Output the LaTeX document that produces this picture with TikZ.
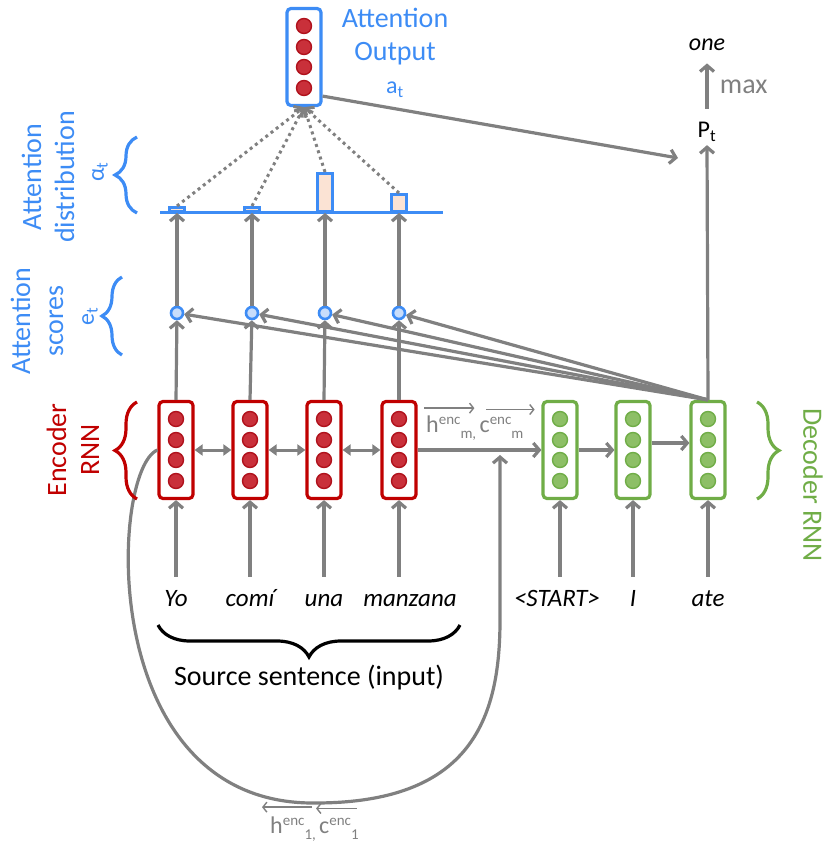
\documentclass[tikz,border=0pt]{standalone}
\usepackage{fontspec}
\setmainfont{Carlito}
\usetikzlibrary{arrows.meta,positioning,calc,decorations.pathreplacing}

\definecolor{encred}{HTML}{C00000}
\definecolor{encdark}{HTML}{B0121C}
\definecolor{celred}{HTML}{C9303A}
\definecolor{decgreen}{HTML}{70AD47}
\definecolor{celgreen}{HTML}{8DBF66}
\definecolor{attblue}{HTML}{3D8CF5}
\definecolor{scorefill}{HTML}{C8DDFB}
\definecolor{barfill}{HTML}{FBE3D4}
\definecolor{arrgray}{HTML}{808080}

\newcommand{\fsz}[1]{\fontsize{#1}{#1}\selectfont}
\newcommand{\supenc}{\raisebox{8pt}{\fsz{15}enc}}
\newcommand{\subidx}[1]{\raisebox{-6pt}{\fsz{15}#1}}

\begin{document}
\begin{tikzpicture}[x=1pt, y=-1pt,
  vecbox/.style={draw, rounded corners=4pt, line width=3.2pt, fill=white,
    minimum width=34pt, minimum height=97pt, inner sep=0pt},
  cell/.style={circle, draw, line width=1.4pt, minimum size=15pt, inner sep=0pt},
  score/.style={circle, draw=attblue, fill=scorefill, line width=2.6pt,
    minimum size=12pt, inner sep=0pt},
  bar/.style={draw=attblue, fill=barfill, line width=3pt, minimum width=15pt,
    inner sep=0pt},
  arr/.style={draw=arrgray, line width=3.2pt,
    -{Straight Barb[length=6pt, width=14pt]}},
  biarr/.style={draw=arrgray, line width=3pt,
    {Triangle[length=8pt, width=11pt]}-{Triangle[length=8pt, width=11pt]}},
  dotarr/.style={draw=arrgray, line width=3pt, dash pattern=on 3pt off 3.6pt,
    -{Straight Barb[length=6pt, width=14pt]}},
  thinarr/.style={draw=arrgray, line width=1.4pt,
    -{Straight Barb[length=4pt, width=10pt]}},
  brc/.style={decorate, line width=3.2pt},
  word/.style={font=\fsz{25}\itshape, anchor=base, text height=17pt,
    text depth=6pt, inner ysep=12pt},
  bluelbl/.style={text=attblue, font=\fontsize{28}{33}\selectfont, align=center},
  enclbl/.style={text=arrgray, font=\fsz{24}, inner sep=1pt, anchor=base west}
]
\useasboundingbox (0,0) rectangle (828,842);

% encoder
\foreach \i/\x in {1/176,2/250,3/324,4/399}{
  \node[vecbox, draw=encred] (enc\i) at (\x,450) {};
  \foreach \k/\dy in {1/-31,2/-10,3/10,4/31}
    \node[cell, draw=encdark, fill=celred] (enc\i-\k) at ($(enc\i)+(0,\dy)$) {};
}
% decoder
\foreach \i/\x in {1/560,2/633,3/708}{
  \node[vecbox, draw=decgreen] (dec\i) at (\x,450) {};
  \foreach \k/\dy in {1/-31,2/-10,3/10,4/31}
    \node[cell, draw=decgreen, fill=celgreen] (dec\i-\k) at ($(dec\i)+(0,\dy)$) {};
}
% attention output
\node[vecbox, draw=attblue] (attout) at (304,57) {};
\foreach \k/\dy in {1/-31,2/-10,3/10,4/31}
  \node[cell, draw=encdark, fill=celred] (att-\k) at ($(attout)+(0,\dy)$) {};

% scores and distribution
\coordinate (axL) at (160,213);
\coordinate (axR) at (443,213);
\draw[attblue, line width=3pt] (axL) -- (axR);
\foreach \i/\x/\h in {1/177/4,2/252/4,3/325/38,4/399/17}{
  \node[score] (sc\i) at (\x,313) {};
  \node[bar, minimum height=\h, anchor=south] (bar\i) at (\x,213) {};
}

% inputs
\node[word] (w1) at (176,606) {Yo};
\node[word] (w2) at (250,606) {comí};
\node[word] (w3) at (324,606) {una};
\node[word] (w4) at (410,606) {manzana};
\node[word] (w5) at (557,606) {<START>};
\node[word] (w6) at (633,606) {I};
\node[word] (w7) at (708,606) {ate};
\foreach \i in {1,...,4}
  \draw[arr] (enc\i.south |- w\i.north) -- (enc\i.south);
\draw[arr] (dec1.south |- w5.north) -- (dec1.south);
\draw[arr] (dec2.south |- w6.north) -- (dec2.south);
\draw[arr] (dec3.south |- w7.north) -- (dec3.south);

% recurrent links
\draw[biarr] (enc1.east) -- (enc2.west);
\draw[biarr] (enc2.east) -- (enc3.west);
\draw[biarr] (enc3.east) -- (enc4.west);
\draw[arr] (enc4.east) -- (dec1.west);
\draw[arr] (dec1.east) -- (dec2.west);
\draw[arr] ($(dec2.east)+(0,-7)$) -- ($(dec3.west)+(0,-7)$);

% backward final state
\coordinate (loopbot) at (315,803);
\coordinate (loopend) at (500,455);
\draw[arr] (enc1.west) .. controls (110,470) and (95,805) .. (loopbot)
  .. controls (470,803) and (500,720) .. (500,620) -- (loopend);

% attention
\foreach \i in {1,...,4}{
  \draw[arr] (enc\i.north) -- (sc\i);
  \draw[arr] (sc\i) -- (sc\i |- axL);
  \draw[dotarr] (bar\i.north) -- (attout.south);
  \draw[arr] (dec3.north) -- (sc\i);
}

% output
\node[font=\fsz{24}] (pt) at (707,132) {P\textsubscript{t}};
\node[font=\fsz{24}\itshape] (one) at (707,45) {one};
\coordinate (ptin) at (678,158);
\draw[arr] (dec3.north) -- (pt.south);
\draw[arr, shorten <=10pt, shorten >=9pt] (pt.north) --
  node[right, xshift=8pt, text=arrgray, font=\fsz{28}] (maxlbl) {max} (one.south);
\draw[arr] ($(attout.south east)+(0,-11)$) -- (ptin);

% labels
\node[bluelbl] (attoutlbl) at (395,37) {Attention\\Output};
\node[bluelbl, font=\fsz{24}] (atlbl) at (395,90) {a\textsubscript{t}};
\node[bluelbl, rotate=90] (distlbl) at (48,177) {Attention\\distribution};
\node[bluelbl, rotate=90, font=\fsz{24}] (alphalbl) at (100,172) {α\textsubscript{t}};
\node[bluelbl, rotate=90] (scorelbl) at (37,321) {Attention\\scores};
\node[bluelbl, rotate=90, font=\fsz{24}] (elbl) at (90,316) {e\textsubscript{t}};
\node[bluelbl, rotate=90, text=encred] (encrnn) at (73,450) {Encoder\\RNN};
\node[bluelbl, rotate=-90, text=decgreen] (decrnn) at (813,485) {Decoder RNN};
\node[font=\fsz{28}] (srclbl) at (309,678) {Source sentence (input)};

\node[enclbl] (hm1) at (425,432) {h\supenc\subidx{m,}};
\node[enclbl] (hm2) at ($(hm1.base east)+(1,0)$) {c\supenc\subidx{m}};
\draw[thinarr] ($(hm1.north west)+(-1,-6)$) -- ($(hm1.north east)+(-3,-6)$);
\draw[thinarr] ($(hm2.north west)+(8,-6)$) -- ($(hm2.north east)+(10,-6)$);
\node[enclbl] (h11) at (269,833) {h\supenc\subidx{1,}};
\node[enclbl] (h12) at ($(h11.base east)+(1,0)$) {c\supenc\subidx{1}};
\draw[thinarr] ($(h11.north east)+(-5,-8)$) -- ($(h11.north west)+(-7,-8)$);
\draw[thinarr] ($(h12.north east)+(-3,-8)$) -- ($(h12.north west)+(-2,-8)$);

% braces
\draw[brc, attblue, decoration={brace, amplitude=22pt}] (137,213) -- (137,137);
\draw[brc, attblue, decoration={brace, amplitude=20pt}] (122,355) -- (122,277);
\draw[brc, encred, decoration={brace, amplitude=22pt}] (137,499) -- (137,402);
\draw[brc, decgreen, decoration={brace, amplitude=22pt}] (757,402) -- (757,499);
\draw[brc, black, decoration={brace, amplitude=32pt}] (460,625) -- (158,625);
\end{tikzpicture}
\end{document}
